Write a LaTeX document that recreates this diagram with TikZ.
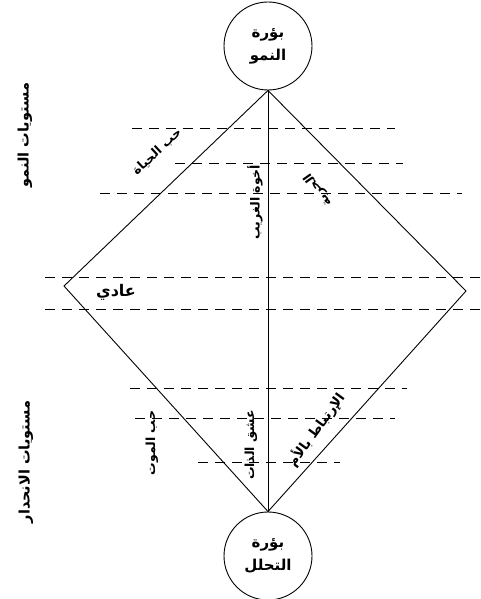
\documentclass[tikz,border=0pt]{standalone}
\usepackage{fontspec}
\newfontfamily\arabicfont[Script=Arabic,BoldFont={DejaVu Sans Bold}]{DejaVu Sans}
\TeXXeTstate=1
\newcommand{\ar}[1]{\arabicfont\bfseries\beginR #1\endR}
\begin{document}
\begin{tikzpicture}[x=1pt,y=-1pt,
  edge/.style={line width=0.9pt},
  lvl/.style={line width=0.9pt,dash pattern=on 10pt off 7pt},
  focus/.style={circle,draw,line width=0.9pt,minimum size=88pt,inner sep=0pt,align=center,font=\fontsize{15}{23}\selectfont},
  lbl/.style={inner sep=1pt,font=\fontsize{12.5}{14}\selectfont},
  side/.style={inner sep=1pt,rotate=90,font=\fontsize{14.5}{16}\selectfont}]
\useasboundingbox (0,0) rectangle (480,599);
% focus circles
\node[focus] (top) at (268,46) {\ar{بؤرة}\\\ar{النمو}};
\node[focus] (bot) at (268,556) {\ar{بؤرة}\\\ar{التحلل}};
% diamond vertices
\coordinate (L) at (64,286);
\coordinate (R) at (466,291);
\draw[edge] (top.south) -- (L) -- (bot.north) -- (R) -- cycle;
\draw[edge] (top.south) -- (bot.north);
% level lines
\draw[lvl] (132,128) -- (395,128);
\draw[lvl] (175,163) -- (403,163);
\draw[lvl] (100,193) -- (462,193);
\draw[lvl] (45,277) -- (480,277);
\draw[lvl] (45,309) -- (480,309);
\draw[lvl] (130,388) -- (407,388);
\draw[lvl] (135,418) -- (395,418);
\draw[lvl] (198,462) -- (340,462);
% side labels
\node[side] (growth) at (25,135) {\ar{مستويات النمو}};
\node[side] (decline) at (26,462) {\ar{مستويات الانحدار}};
% edge labels
\node[lbl,rotate=43] (life) at (157,152) {\ar{حب الحياة}};
\node[lbl,rotate=90] (stranger) at (255,202) {\ar{أخوة الغريب}};
\node[lbl,rotate=125] (freedom) at (318,190) {\ar{الحرية}};
\node[lbl,font=\fontsize{16}{18}\selectfont] (normal) at (116,292) {\ar{عادي}};
\node[lbl,rotate=90] (death) at (152,443) {\ar{حب الموت}};
\node[lbl,rotate=90] (self) at (251,445) {\ar{عشق الذات}};
\node[lbl,rotate=54,font=\fontsize{13.5}{15}\selectfont] (mother) at (316,430) {\ar{الإرتباط بالأم}};
\end{tikzpicture}
\end{document}
